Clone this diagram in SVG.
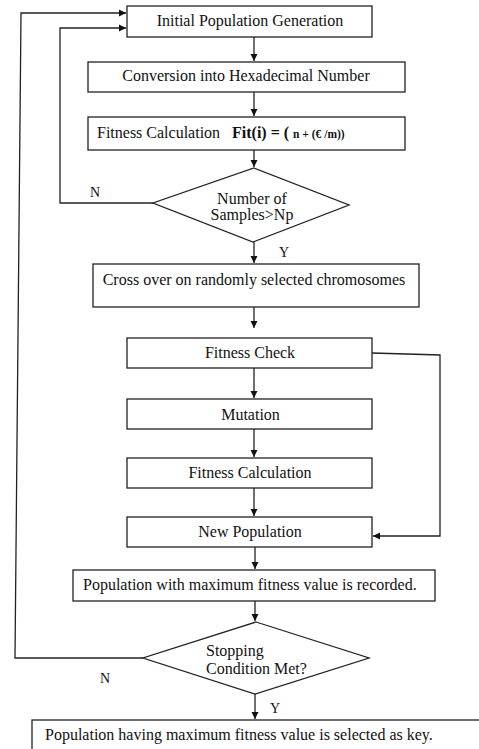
<svg xmlns="http://www.w3.org/2000/svg" width="479" height="749" viewBox="0 0 479 749">
<style>
.box{fill:#fff;stroke:#222;stroke-width:1.3}
.t{font-family:"Liberation Serif","Times New Roman",serif;font-size:16px;fill:#111}
.c{text-anchor:middle}
.b{font-weight:bold}
.s{font-size:14px}
.ln{fill:none;stroke:#222;stroke-width:1.3}
</style>
<defs>
<marker id="ah" markerUnits="userSpaceOnUse" markerWidth="8" markerHeight="8" refX="7" refY="4" orient="auto">
<path d="M0,0.5 L7,4 L0,7.5 Z" fill="#111"/>
</marker>
</defs>
<rect width="479" height="749" fill="#fff"/>
<g id="connectors">
<path class="ln" d="M254,37 V61" marker-end="url(#ah)"/>
<path class="ln" d="M254,92 V116" marker-end="url(#ah)"/>
<path class="ln" d="M254,150 V167" marker-end="url(#ah)"/>
<path class="ln" d="M153,203 H60 V28 H126" marker-end="url(#ah)"/>
<path class="ln" d="M254,242 V263" marker-end="url(#ah)"/>
<path class="ln" d="M254,307 V328" marker-end="url(#ah)"/>
<path class="ln" d="M254,368 V398" marker-end="url(#ah)"/>
<path class="ln" d="M254,429 V457" marker-end="url(#ah)"/>
<path class="ln" d="M254,488 V516" marker-end="url(#ah)"/>
<path class="ln" d="M372,353 L440,355 V536 H373" marker-end="url(#ah)"/>
<path class="ln" d="M255,547 V569" marker-end="url(#ah)"/>
<path class="ln" d="M255,601 V621" marker-end="url(#ah)"/>
<path class="ln" d="M143,658 H15 L21,13 H126" marker-end="url(#ah)"/>
<path class="ln" d="M255,694 V719" marker-end="url(#ah)"/>
</g>
<g id="n1"><rect class="box" x="127" y="6" width="245" height="31"/><text class="t c" x="250" y="26">Initial Population Generation</text></g>
<g id="n2"><rect class="box" x="88" y="62" width="317" height="30"/><text class="t c" x="246" y="81">Conversion into Hexadecimal Number</text></g>
<g id="n3"><rect class="box" x="88" y="117" width="317" height="33"/><text class="t" x="97" y="138">Fitness Calculation</text><text class="t b" x="232" y="138">Fit(i) = ( <tspan font-size="11.5px">n + (€ /m))</tspan></text></g>
<g id="d1"><polygon class="box" points="254,168 349,205 253,242 153,203"/><text class="t c" x="252" y="203.5">Number of</text><text class="t c" x="252" y="220">Samples&gt;Np</text></g>
<g id="l1"><text class="t s" x="90" y="197">N</text><text class="t s" x="279" y="257">Y</text></g>
<g id="n4"><rect class="box" x="93" y="264" width="326" height="43"/><text class="t c" x="254" y="285">Cross over on randomly selected chromosomes</text></g>
<g id="n5"><rect class="box" x="127" y="338" width="245" height="30"/><text class="t c" x="250" y="358">Fitness Check</text></g>
<g id="n6"><rect class="box" x="127" y="399" width="245" height="30"/><text class="t c" x="250.5" y="420">Mutation</text></g>
<g id="n7"><rect class="box" x="127" y="458" width="245" height="30"/><text class="t c" x="250" y="478">Fitness Calculation</text></g>
<g id="n8"><rect class="box" x="127" y="517" width="245" height="30"/><text class="t c" x="250" y="537">New Population</text></g>
<g id="n9"><rect class="box" x="73" y="570" width="362" height="31"/><text class="t" x="83" y="590">Population with maximum fitness value is recorded.</text></g>
<g id="d2"><polygon class="box" points="256,622 369,658 255,694 143,658"/><text class="t" x="206" y="656">Stopping</text><text class="t" x="206" y="674">Condition Met?</text></g>
<g id="l2"><text class="t s" x="100" y="683">N</text><text class="t s" x="270" y="713">Y</text></g>
<g id="n10"><rect class="box" x="32" y="720" width="470" height="40"/><text class="t" x="45" y="740">Population having maximum fitness value is selected as key.</text></g>
</svg>
